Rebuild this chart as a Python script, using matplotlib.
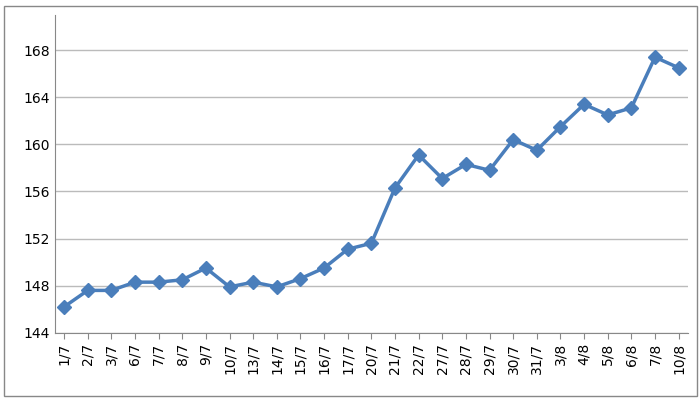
import matplotlib
matplotlib.use("Agg")
import matplotlib.pyplot as plt

labels = ["1/7","2/7","3/7","6/7","7/7","8/7","9/7","10/7","13/7","14/7","15/7","16/7","17/7","20/7",
          "21/7","22/7","27/7","28/7","29/7","30/7","31/7","3/8","4/8","5/8","6/8","7/8","10/8"]
values = [146.2,147.6,147.6,148.3,148.3,148.5,149.5,147.9,148.3,147.9,148.6,149.5,151.1,151.6,
          156.3,159.1,157.1,158.3,157.8,160.4,159.5,161.5,163.4,162.5,163.1,167.4,166.5]

fig = plt.figure(figsize=(7, 4), dpi=100)
ax = fig.add_axes([0.078, 0.168, 0.905, 0.795])
x = list(range(len(labels)))
ax.plot(x, values, color="#4a7ebb", lw=2.5, marker="D", ms=7, zorder=3)
ax.set_xlim(-0.4, len(labels) - 0.6)
ax.set_ylim(144, 171)
ax.set_yticks([144, 148, 152, 156, 160, 164, 168])
ax.set_xticks(x)
ax.set_xticklabels(labels, rotation=90, fontsize=10)
ax.tick_params(axis="y", labelsize=10, length=0)
ax.tick_params(axis="x", length=4, color="#888888")
ax.grid(axis="y", color="#bbbbbb", lw=1)
for s in ["top", "right"]:
    ax.spines[s].set_visible(False)
ax.spines["left"].set_color("#888888")
ax.spines["bottom"].set_color("#888888")
fig.patches.append(plt.Rectangle((0.005, 0.01), 0.99, 0.975, transform=fig.transFigure,
                                 fill=False, edgecolor="#888888", lw=1))
fig.savefig("out.png")
